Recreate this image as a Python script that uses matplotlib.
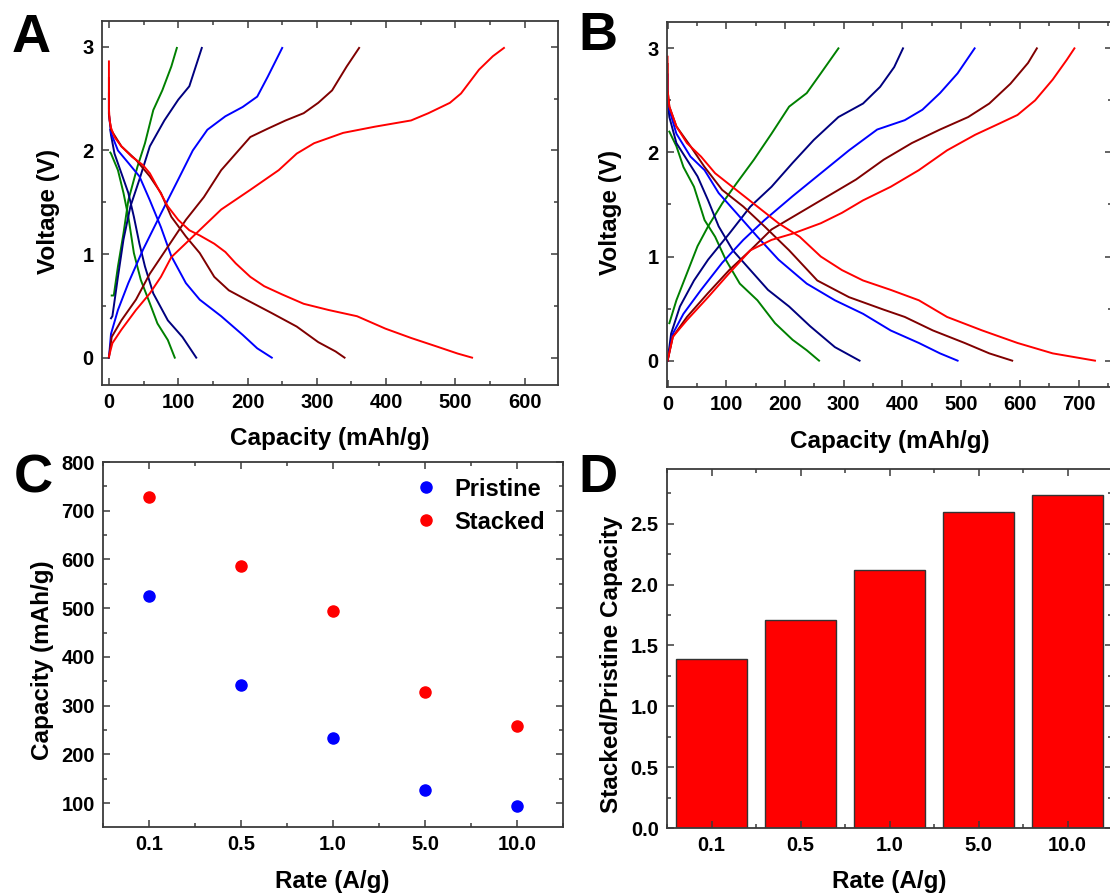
import matplotlib
matplotlib.use("Agg")
import matplotlib.pyplot as plt
from matplotlib.ticker import MultipleLocator

plt.rcParams['font.family'] = ['Liberation Sans', 'DejaVu Sans']
plt.rcParams['font.weight'] = 'bold'

# ---------------- Panel A (pristine) : capacity (mAh/g) vs voltage (V) ----------------
a_red_dis_cap = [0, 0, 1, 3, 8, 18, 33, 49, 59, 72, 85, 100, 116, 131, 152, 168, 183, 204, 224, 250, 281, 317, 358, 399, 436, 472, 503, 524]
a_red_dis_v = [2.86, 2.4, 2.29, 2.22, 2.13, 2.04, 1.94, 1.86, 1.78, 1.62, 1.46, 1.33, 1.23, 1.18, 1.1, 1.02, 0.91, 0.78, 0.69, 0.61, 0.52, 0.46, 0.4, 0.28, 0.19, 0.11, 0.04, 0.0]
a_red_chg_cap = [0, 5, 18, 39, 59, 75, 90, 126, 162, 204, 245, 271, 296, 338, 384, 436, 461, 492, 508, 534, 554, 570]
a_red_chg_v = [0.01, 0.14, 0.27, 0.46, 0.62, 0.78, 0.97, 1.2, 1.43, 1.62, 1.81, 1.97, 2.07, 2.17, 2.23, 2.29, 2.36, 2.46, 2.55, 2.78, 2.91, 2.99]

a_brn_dis_cap = [0, 0, 3, 18, 39, 59, 75, 90, 111, 131, 152, 173, 198, 235, 271, 302, 327, 340]
a_brn_dis_v = [2.7, 2.35, 2.2, 2.04, 1.91, 1.75, 1.59, 1.36, 1.17, 1.01, 0.78, 0.65, 0.56, 0.43, 0.3, 0.15, 0.06, 0.0]
a_brn_chg_cap = [0, 4, 18, 39, 59, 85, 111, 137, 162, 183, 204, 229, 255, 281, 302, 322, 343, 361]
a_brn_chg_v = [0.0, 0.2, 0.36, 0.56, 0.81, 1.07, 1.33, 1.55, 1.81, 1.97, 2.13, 2.21, 2.29, 2.36, 2.46, 2.58, 2.81, 2.99]

a_blu_dis_cap = [0, 0, 3, 13, 28, 44, 59, 75, 90, 111, 131, 162, 193, 214, 235]
a_blu_dis_v = [2.55, 2.35, 2.17, 2.0, 1.88, 1.75, 1.52, 1.26, 0.98, 0.72, 0.56, 0.4, 0.22, 0.09, 0.0]
a_blu_chg_cap = [0, 3, 13, 28, 49, 75, 100, 121, 142, 168, 193, 214, 229, 250]
a_blu_chg_v = [0.0, 0.23, 0.46, 0.72, 1.04, 1.39, 1.72, 2.0, 2.2, 2.33, 2.42, 2.52, 2.71, 2.99]

a_nvy_dis_cap = [2, 3, 8, 18, 28, 36, 44, 52, 64, 85, 106, 126]
a_nvy_dis_v = [2.2, 2.15, 1.97, 1.78, 1.59, 1.36, 1.1, 0.88, 0.62, 0.36, 0.2, 0.0]
a_nvy_chg_cap = [3, 5, 13, 21, 31, 44, 59, 80, 100, 116, 134]
a_nvy_chg_v = [0.38, 0.4, 0.78, 1.14, 1.46, 1.72, 2.04, 2.29, 2.49, 2.62, 2.99]

a_grn_dis_cap = [2, 3, 13, 21, 28, 36, 46, 57, 70, 85, 95]
a_grn_dis_v = [1.98, 1.97, 1.81, 1.59, 1.36, 1.01, 0.75, 0.56, 0.33, 0.17, 0.0]
a_grn_chg_cap = [4, 7, 13, 21, 28, 41, 52, 64, 77, 90, 98]
a_grn_chg_v = [0.6, 0.6, 0.88, 1.2, 1.52, 1.84, 2.07, 2.39, 2.58, 2.81, 2.99]

# ---------------- Panel B (stacked) ----------------
b_red_dis_cap = [0, 0, 3, 15, 33, 57, 81, 117, 153, 189, 225, 261, 297, 333, 380, 428, 476, 536, 596, 656, 728]
b_red_dis_v = [2.92, 2.6, 2.44, 2.25, 2.09, 1.96, 1.8, 1.64, 1.48, 1.32, 1.19, 1.0, 0.87, 0.77, 0.68, 0.58, 0.42, 0.29, 0.17, 0.07, 0.0]
b_red_chg_cap = [0, 9, 33, 69, 105, 141, 177, 213, 261, 297, 333, 380, 428, 476, 524, 566, 596, 626, 656, 680, 693]
b_red_chg_v = [0.0, 0.23, 0.39, 0.61, 0.84, 1.06, 1.16, 1.22, 1.32, 1.42, 1.54, 1.67, 1.83, 2.02, 2.17, 2.28, 2.36, 2.5, 2.7, 2.89, 3.0]

b_brn_dis_cap = [0, 0, 3, 15, 39, 63, 93, 129, 165, 207, 255, 309, 368, 404, 452, 506, 548, 587]
b_brn_dis_v = [2.85, 2.6, 2.44, 2.25, 2.06, 1.86, 1.64, 1.48, 1.29, 1.06, 0.77, 0.61, 0.49, 0.42, 0.29, 0.17, 0.07, 0.0]
b_brn_chg_cap = [0, 9, 33, 69, 105, 141, 177, 225, 273, 321, 368, 416, 464, 512, 548, 584, 614, 629]
b_brn_chg_v = [0.0, 0.23, 0.42, 0.65, 0.87, 1.06, 1.26, 1.42, 1.58, 1.74, 1.93, 2.09, 2.22, 2.34, 2.47, 2.66, 2.86, 3.0]

b_blu_dis_cap = [0, 0, 3, 15, 39, 63, 87, 117, 153, 189, 237, 285, 333, 380, 428, 464, 494]
b_blu_dis_v = [2.75, 2.55, 2.41, 2.18, 1.96, 1.83, 1.61, 1.42, 1.19, 0.97, 0.74, 0.58, 0.45, 0.29, 0.17, 0.07, 0.0]
b_blu_chg_cap = [0, 9, 27, 57, 93, 129, 165, 213, 261, 309, 357, 404, 434, 464, 494, 523]
b_blu_chg_v = [0.0, 0.26, 0.45, 0.68, 0.94, 1.16, 1.35, 1.58, 1.8, 2.02, 2.22, 2.31, 2.41, 2.57, 2.76, 3.0]

b_nvy_dis_cap = [0, 3, 15, 33, 51, 69, 87, 111, 141, 171, 207, 243, 285, 327]
b_nvy_dis_v = [2.5, 2.34, 2.09, 1.93, 1.77, 1.54, 1.29, 1.06, 0.87, 0.68, 0.52, 0.33, 0.13, 0.0]
b_nvy_chg_cap = [0, 6, 21, 45, 69, 105, 141, 177, 213, 249, 291, 333, 362, 386, 401]
b_nvy_chg_v = [0.0, 0.26, 0.52, 0.77, 0.97, 1.22, 1.48, 1.67, 1.9, 2.12, 2.34, 2.47, 2.63, 2.82, 3.0]

b_grn_dis_cap = [3, 15, 27, 45, 63, 81, 99, 123, 153, 183, 213, 237, 258]
b_grn_dis_v = [2.2, 2.06, 1.86, 1.67, 1.35, 1.19, 0.97, 0.74, 0.58, 0.36, 0.2, 0.1, 0.0]
b_grn_chg_cap = [3, 15, 33, 51, 69, 93, 117, 147, 177, 207, 237, 261, 291]
b_grn_chg_v = [0.36, 0.58, 0.84, 1.1, 1.29, 1.51, 1.7, 1.93, 2.18, 2.44, 2.57, 2.76, 3.0]

# ---------------- Panels C and D ----------------
rates = ['0.1', '0.5', '1.0', '5.0', '10.0']
pristine_cap = [525, 342, 234, 127, 94]
stacked_cap = [728, 587, 495, 328, 258]
ratio = [1.39, 1.71, 2.12, 2.60, 2.74]

colors = {'grn': '#008000', 'nvy': '#00007F', 'blu': '#0000FF', 'brn': '#800000', 'red': '#FF0000'}

a_curves = [
    ('grn', a_grn_dis_cap, a_grn_dis_v), ('grn', a_grn_chg_cap, a_grn_chg_v),
    ('nvy', a_nvy_dis_cap, a_nvy_dis_v), ('nvy', a_nvy_chg_cap, a_nvy_chg_v),
    ('blu', a_blu_dis_cap, a_blu_dis_v), ('blu', a_blu_chg_cap, a_blu_chg_v),
    ('brn', a_brn_dis_cap, a_brn_dis_v), ('brn', a_brn_chg_cap, a_brn_chg_v),
    ('red', a_red_dis_cap, a_red_dis_v), ('red', a_red_chg_cap, a_red_chg_v),
]
b_curves = [
    ('grn', b_grn_dis_cap, b_grn_dis_v), ('grn', b_grn_chg_cap, b_grn_chg_v),
    ('nvy', b_nvy_dis_cap, b_nvy_dis_v), ('nvy', b_nvy_chg_cap, b_nvy_chg_v),
    ('blu', b_blu_dis_cap, b_blu_dis_v), ('blu', b_blu_chg_cap, b_blu_chg_v),
    ('brn', b_brn_dis_cap, b_brn_dis_v), ('brn', b_brn_chg_cap, b_brn_chg_v),
    ('red', b_red_dis_cap, b_red_dis_v), ('red', b_red_chg_cap, b_red_chg_v),
]

W, H = 1110, 896
fig = plt.figure(figsize=(W / 100, H / 100), dpi=100)


def add_axes(left, right, top, bottom):
    return fig.add_axes([left / W, 1 - bottom / H, (right - left) / W, (bottom - top) / H])


SPINE = '#3a3a3a'
TICKFS = 14.5
LABELFS = 17.5


def style(ax):
    for s in ax.spines.values():
        s.set_color(SPINE)
        s.set_linewidth(1.3)
    ax.tick_params(which='both', direction='in', top=True, right=True, color=SPINE, width=1.1)
    ax.tick_params(which='major', length=5, pad=6, labelsize=TICKFS)
    ax.tick_params(which='minor', length=3)
    for lab in ax.get_xticklabels() + ax.get_yticklabels():
        lab.set_fontweight('bold')


axA = add_axes(102, 558, 21, 385)
axB = add_axes(667, 1112, 22, 387)
axC = add_axes(103, 563, 462, 827)
axD = add_axes(667, 1112, 469, 828)

for ax, curves in ((axA, a_curves), (axB, b_curves)):
    for key, cap, v in curves:
        ax.plot(cap, v, color=colors[key], lw=1.4, solid_joinstyle='round')

axA.set_xlim(-10, 648)
axA.set_ylim(-0.264, 3.25)
axB.set_xlim(-1, 757)
axB.set_ylim(-0.253, 3.253)
for ax in (axA, axB):
    ax.xaxis.set_major_locator(MultipleLocator(100))
    ax.xaxis.set_minor_locator(MultipleLocator(50))
    ax.yaxis.set_major_locator(MultipleLocator(1))
    ax.yaxis.set_minor_locator(MultipleLocator(0.5))
    ax.set_xlabel('Capacity (mAh/g)', fontsize=LABELFS, fontweight='bold')
    ax.set_ylabel('Voltage (V)', fontsize=LABELFS, fontweight='bold')
    style(ax)

# Panel C
xpos = list(range(len(rates)))
axC.plot(xpos, pristine_cap, 'o', color='#0000FF', ms=8, label='Pristine')
axC.plot(xpos, stacked_cap, 'o', color='#FF0000', ms=8, label='Stacked')
axC.set_xlim(-0.5, 4.5)
axC.set_ylim(51, 800)
axC.set_xticks(xpos)
axC.set_xticklabels(rates)
axC.xaxis.set_minor_locator(MultipleLocator(0.5))
axC.yaxis.set_major_locator(MultipleLocator(100))
axC.yaxis.set_minor_locator(MultipleLocator(50))
axC.set_xlabel('Rate (A/g)', fontsize=LABELFS, fontweight='bold')
axC.set_ylabel('Capacity (mAh/g)', fontsize=LABELFS, fontweight='bold')
style(axC)
axC.tick_params(axis='x', which='minor', bottom=True, top=True)
leg = axC.legend(loc='upper left', bbox_to_anchor=(0.676, 0.957), frameon=False,
                 fontsize=17, handlelength=1.0, handletextpad=0.7, labelspacing=0.42,
                 borderpad=0, borderaxespad=0, numpoints=1)
for t in leg.get_texts():
    t.set_fontweight('bold')

# Panel D
axD.bar(xpos, ratio, width=0.8, color='#FF0000', edgecolor='#333333', linewidth=1.0)
axD.set_xlim(-0.5, 4.5)
axD.set_ylim(0, 2.95)
axD.set_xticks(xpos)
axD.set_xticklabels(rates)
axD.xaxis.set_minor_locator(MultipleLocator(0.5))
axD.yaxis.set_major_locator(MultipleLocator(0.5))
axD.yaxis.set_minor_locator(MultipleLocator(0.25))
axD.set_xlabel('Rate (A/g)', fontsize=LABELFS, fontweight='bold')
axD.set_ylabel('Stacked/Pristine Capacity', fontsize=LABELFS, fontweight='bold')
style(axD)

# label positions (axes coords)
axA.yaxis.set_label_coords(-0.092, 0.478)
axA.xaxis.set_label_coords(0.499, -0.115)
axB.yaxis.set_label_coords(-0.1, 0.477)
axB.xaxis.set_label_coords(0.501, -0.118)
axC.yaxis.set_label_coords(-0.1065, 0.4575)
axC.xaxis.set_label_coords(0.498, -0.118)
axD.yaxis.set_label_coords(-0.099, 0.457)
axD.xaxis.set_label_coords(0.50, -0.117)

# panel letters
for letter, x, y in (('A', 12, 52), ('B', 578, 50), ('C', 14, 492), ('D', 578, 492)):
    fig.text(x / W, 1 - y / H, letter, fontsize=39, fontweight='bold', ha='left', va='baseline')

fig.savefig('out.png', dpi=100)
